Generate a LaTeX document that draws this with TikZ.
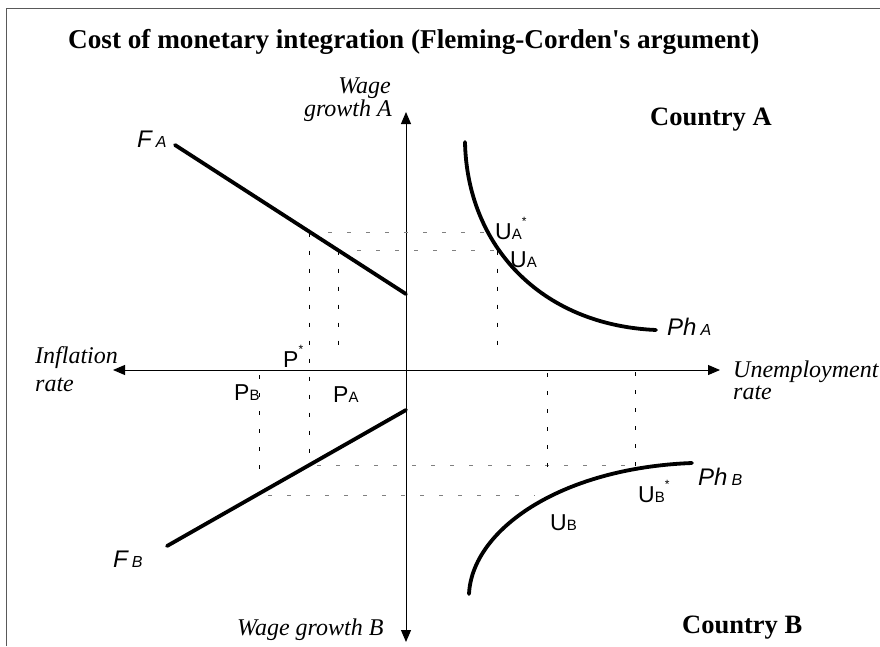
\documentclass[tikz,border=0pt]{standalone}
\usepackage{fontspec}
\setmainfont{Liberation Serif}
\newfontfamily\arialf{Liberation Sans}
\usetikzlibrary{arrows.meta}
\newcommand{\mylab}[2]{{\arialf\fontsize{23}{23}\selectfont #1}{\arialf\fontsize{15}{15}\selectfont #2}}
\newcommand{\mystar}{\raisebox{14pt}{\arialf\fontsize{12}{12}\selectfont *}}
\newcommand{\myitlab}[2]{{\arialf\itshape\fontsize{24}{24}\selectfont #1}\hspace{4pt}{\arialf\itshape\fontsize{16}{16}\selectfont #2}}
\begin{document}
\begin{tikzpicture}[x=1pt,y=-1pt,
  curve/.style={line width=3.8pt, line cap=round},
  axis/.style={line width=1pt, {Triangle[length=12pt,width=10pt]}-{Triangle[length=12pt,width=10pt]}},
  hdash/.style={draw=black!50, line width=1pt, dash pattern=on 4pt off 15pt},
  vdash/.style={draw=black, line width=0.9pt, dash pattern=on 4pt off 14pt},
  txt/.style={inner sep=0pt, anchor=base west},
  txtr/.style={inner sep=0pt, anchor=base east},
  itl/.style={font=\itshape\fontsize{24}{24}\selectfont},
  bold/.style={font=\bfseries\fontsize{26.5}{26.5}\selectfont},
  boldt/.style={font=\bfseries\fontsize{27.2}{27.2}\selectfont}
]
\useasboundingbox (0,0) rectangle (880,646);
% frame
\coordinate (fbl) at (6,646);
\coordinate (ftl) at (6,8);
\coordinate (ftr) at (880,8);
\draw[black!65, line width=1pt] (fbl) -- (ftl) -- (ftr);

% axes
\coordinate (vt) at (406,112);
\coordinate (vb) at (406,642);
\coordinate (hl) at (113,370);
\coordinate (hr) at (720,370);
\draw[axis] (vb) -- (vt);
\draw[axis] (hl) -- (hr);

% dashed guides
\coordinate (d1) at (309,232.5);  \coordinate (d2) at (487,232.5);
\coordinate (d3) at (338,250.7);  \coordinate (d4) at (497,250.7);
\coordinate (d5) at (309,460);
\coordinate (d6) at (338,356);    \coordinate (d7) at (497,356);
\coordinate (d8) at (259,375);    \coordinate (d9) at (259,475);
\coordinate (d10) at (547,373);   \coordinate (d11) at (547,475);
\coordinate (d12) at (635,372);   \coordinate (d13) at (635,465.7);
\coordinate (d14) at (317,465.7);
\coordinate (d15) at (268,495.7); \coordinate (d16) at (535,495.7);
\draw[hdash] (d1) -- (d2);
\draw[hdash] (d3) -- (d4);
\draw[hdash] (d14) -- (d13);
\draw[hdash] (d15) -- (d16);
\draw[vdash] (d1) -- (d5);
\draw[vdash] (d3) -- (d6);
\draw[vdash] (d4) -- (d7);
\draw[vdash] (d8) -- (d9);
\draw[vdash] (d10) -- (d11);
\draw[vdash] (d12) -- (d13);

% F lines
\coordinate (fas) at (175,145);
\coordinate (fae) at (406,294);
\coordinate (fbs) at (167,546);
\coordinate (fbe) at (406,410);
\draw[curve] (fas) -- (fae);
\draw[curve] (fbs) -- (fbe);

% Phillips curves
\coordinate (pas) at (465,142);
\coordinate (pae) at (656,330);
\coordinate (pbs) at (469,594);
\coordinate (pbe) at (692,463);
\draw[curve] (pas) .. controls (467,245) and (540,325) .. (pae);
\draw[curve] (pbs) .. controls (472,530) and (560,468) .. (pbe);

% title and country labels
\node[txt, boldt] (title) at (68,48) {Cost of monetary integration (Fleming-Corden\textquotesingle s argument)};
\node[txt, bold] (ca) at (650,125) {Country A};
\node[txt, bold] (cb) at (682,633) {Country B};

% axis labels
\node[txtr, itl] (wa1) at (391,93) {Wage};
\node[txtr, itl] (wa2) at (392,116) {growth A};
\node[txt, itl] (inf1) at (35,363) {Inflation};
\node[txt, itl] (inf2) at (35,391) {rate};
\node[txt, itl] (un1) at (733,377) {Unemployment};
\node[txt, itl] (un2) at (733,399) {rate};
\node[txt, itl] (wb) at (237,635) {Wage growth B};

% curve labels
\node[txt] (lfa) at (137,147) {\myitlab{F}{A}};
\node[txt] (lfb) at (113,567) {\myitlab{F}{B}};
\node[txt] (lpha) at (667,335) {\myitlab{Ph}{A}};
\node[txt] (lphb) at (698,485) {\myitlab{Ph}{B}};

% point labels
\node[txt] (lps) at (283,367) {\mylab{P}{}\mystar};
\node[txt] (lpb) at (234,400) {\mylab{P}{B}};
\node[txt] (lpa) at (333,402) {\mylab{P}{A}};
\node[txt] (luas) at (495,239) {\mylab{U}{A}\mystar};
\node[txt] (lua) at (510,267) {\mylab{U}{A}};
\node[txt] (lubs) at (638,502) {\mylab{U}{B}\mystar};
\node[txt] (lub) at (550,530) {\mylab{U}{B}};
\end{tikzpicture}
\end{document}
